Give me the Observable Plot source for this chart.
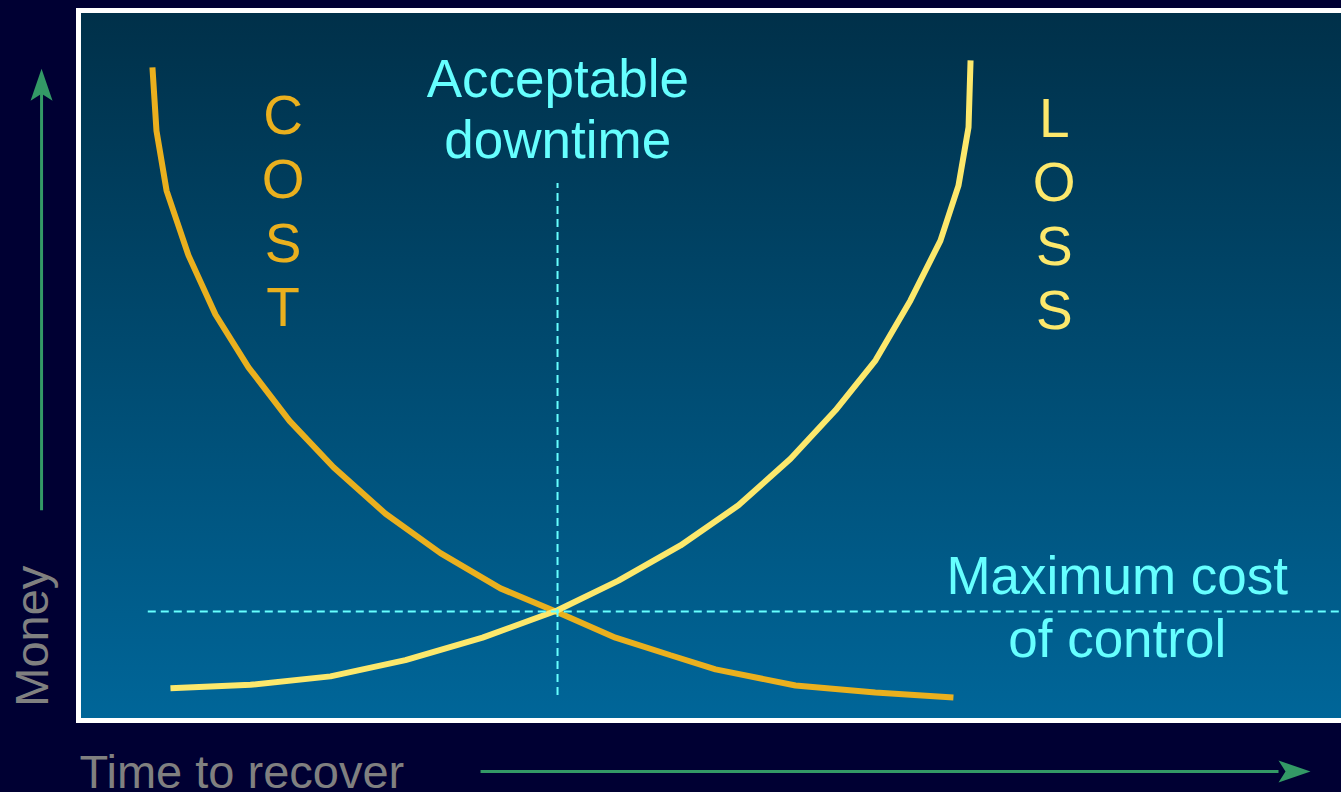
<!DOCTYPE html>
<html>
<head>
<meta charset="utf-8">
<script src="https://cdn.jsdelivr.net/npm/d3@7"></script>
<script src="https://cdn.jsdelivr.net/npm/@observablehq/plot@0.6"></script>
<style>
  html, body { margin: 0; padding: 0; background: #000033; overflow: hidden; }
  #chart { width: 1341px; height: 792px; overflow: hidden; }
</style>
</head>
<body>
<div id="chart"></div>
<script>
// ---- Data (x: time to recover, y: money; abstract 0–100 units) ----
const costTime  = [5.63, 5.95, 6.75, 8.49, 10.63, 13.25, 16.51, 20.0, 24.13, 28.49, 33.25, 37.78, 42.38, 46.75, 50.32, 56.67, 63.0, 69.2];
const costMoney = [92.2, 83.2, 74.7, 65.5, 57.1, 49.6, 42.0, 35.4, 28.8, 23.2, 18.2, 14.8, 11.2, 8.7, 6.7, 4.4, 3.4, 2.7];

const lossTime  = [7.06, 13.41, 19.76, 25.71, 31.83, 37.78, 42.62, 47.54, 52.14, 56.27, 59.84, 63.02, 65.79, 68.17, 69.6, 70.4, 70.56];
const lossMoney = [4.0, 4.5, 5.7, 8.0, 11.2, 15.1, 19.3, 24.3, 30.0, 36.6, 43.5, 50.6, 59.1, 67.6, 75.4, 83.7, 93.2];

// Annotation values
const acceptableDowntime = 37.78;      // x of vertical dashed line
const downtimeRuleRange = [3.0, 75.7];  // y extent of vertical dashed line
const maxCostOfControl = 14.9;          // y of horizontal dashed line
const costRuleRange = [5.3, 100];       // x extent of horizontal dashed line

const labels = [
  {text: "Acceptable\ndowntime", x: 37.8, y: 79.4, color: "#66FFFF", size: 53, lh: 1.135, anchor: "middle"},
  {text: "Maximum cost\nof control", x: 82.2, y: 8.4, color: "#66FFFF", size: 53, lh: 1.19, anchor: "middle"},
  {text: "C\nO\nS\nT", x: 16.0, y: 55.5, color: "#EAB01E", size: 55, lh: 1.164, anchor: "middle"},
  {text: "L\nO\nS\nS", x: 77.2, y: 55.0, color: "#FCE86C", size: 55, lh: 1.164, anchor: "middle"}
];

const axisTitles = {
  x: {text: "Time to recover", x: -0.16, y: -10.1},
  y: {text: "Money", x: -2.62, y: 11.4}
};

const arrowX = {x1: 31.67, x2: 95.0, tip: 97.54, y: -7.81};
const arrowY = {y1: 29.3, y2: 89.0, tip: 92.0, x: -3.17};

// ---- Build tables ----
const cost = costTime.map((t, i) => ({t, m: costMoney[i]}));
const loss = lossTime.map((t, i) => ({t, m: lossMoney[i]}));

const green = "#339966";
const cyan = "#66FFFF";

// notched arrowhead symbol: tip at origin, pointing up
const arrowHead = {
  draw(context, size) {
    const r = Math.sqrt(size / Math.PI);
    context.moveTo(0, 0);
    context.lineTo(0.6875 * r, 2 * r);
    context.lineTo(0, 1.5625 * r);
    context.lineTo(-0.6875 * r, 2 * r);
    context.closePath();
  }
};

const font = "'Liberation Sans', Arial, sans-serif";

const svg = Plot.plot({
  width: 1360,
  height: 792,
  marginLeft: 78,
  marginRight: 10,
  marginTop: 10,
  marginBottom: 72,
  style: "background: transparent; max-width: none; overflow: visible; font-family: 'Liberation Sans', Arial, sans-serif;",
  x: {domain: [0, 100], range: [81, 1341], axis: null},
  y: {domain: [0, 100], range: [716, 12], axis: null},
  marks: [
    Plot.frame({fill: "url(#panelGrad)", stroke: "white", strokeWidth: 5}),
    Plot.line(cost, {x: "t", y: "m", stroke: "#EAB01E", strokeWidth: 6, strokeLinecap: "butt", strokeLinejoin: "miter", curve: "linear"}),
    Plot.line(loss, {x: "t", y: "m", stroke: "#FCE86C", strokeWidth: 6, strokeLinecap: "butt", strokeLinejoin: "miter", curve: "linear"}),
    Plot.ruleX([acceptableDowntime], {y1: downtimeRuleRange[0], y2: downtimeRuleRange[1], stroke: cyan, strokeWidth: 2, strokeDasharray: "8,5"}),
    Plot.ruleY([maxCostOfControl], {x1: costRuleRange[0], x2: costRuleRange[1], stroke: cyan, strokeWidth: 2, strokeDasharray: "8,5"}),
    ...labels.map(l => Plot.text([l], {
      x: "x", y: "y", text: "text", fill: l.color, fontSize: l.size, lineHeight: l.lh,
      textAnchor: l.anchor, lineAnchor: "bottom", fontFamily: font
    })),
    Plot.text([axisTitles.x], {x: "x", y: "y", text: "text", fill: "#808080", fontSize: 47, textAnchor: "start", lineAnchor: "bottom", fontFamily: font}),
    Plot.text([axisTitles.y], {x: "x", y: "y", text: "text", fill: "#808080", fontSize: 47, textAnchor: "middle", lineAnchor: "bottom", rotate: -90, fontFamily: font}),
    // arrows
    Plot.link([arrowY], {x1: "x", x2: "x", y1: "y1", y2: "y2", stroke: green, strokeWidth: 3}),
    Plot.dot([arrowY], {x: "x", y: "tip", symbol: arrowHead, r: 16, fill: green, stroke: null}),
    Plot.link([arrowX], {x1: "x1", x2: "x2", y1: "y", y2: "y", stroke: green, strokeWidth: 3}),
    Plot.dot([arrowX], {x: "tip", y: "y", symbol: arrowHead, r: 16, fill: green, stroke: null, rotate: 90})
  ]
});

const defs = d3.select(svg).insert("defs", ":first-child");
const grad = defs.append("linearGradient").attr("id", "panelGrad")
  .attr("x1", 0).attr("y1", 0).attr("x2", 0).attr("y2", 1);
grad.append("stop").attr("offset", "0%").attr("stop-color", "#003049");
grad.append("stop").attr("offset", "100%").attr("stop-color", "#006699");

document.getElementById("chart").appendChild(svg);
</script>
</body>
</html>
